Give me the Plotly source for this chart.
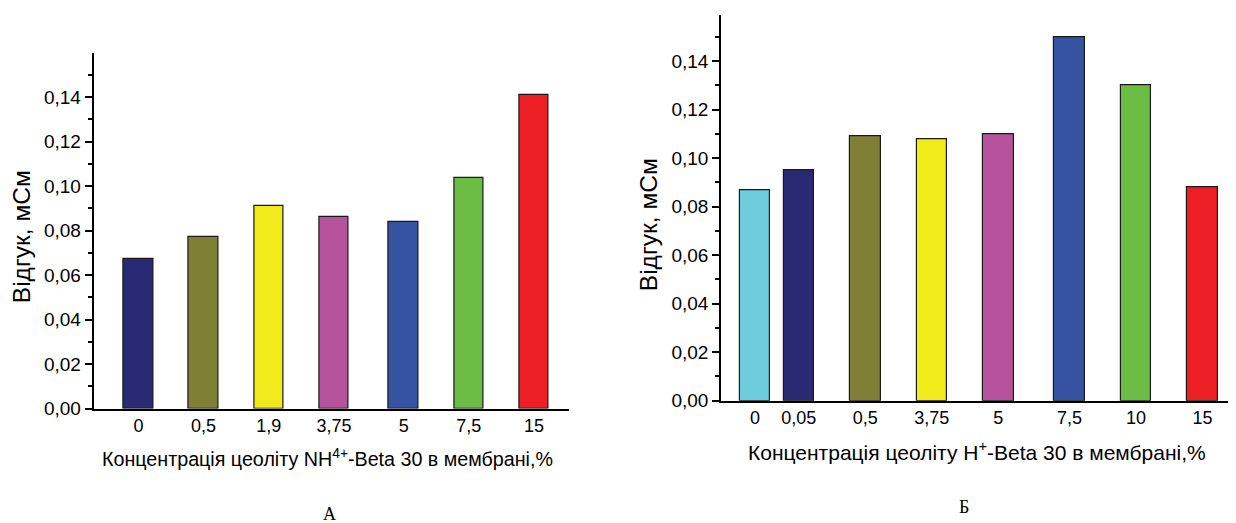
import plotly.graph_objects as go

# ---- data ----
nh4_conc = ["0", "0,5", "1,9", "3,75", "5", "7,5", "15"]
nh4_resp = [0.067, 0.077, 0.091, 0.086, 0.084, 0.1035, 0.141]
nh4_colors = ["#292a73", "#7f7f35", "#f2eb1c", "#b6529e", "#3653a3", "#6bbd45", "#ed1f24"]

h_conc = ["0", "0,05", "0,5", "3,75", "5", "7,5", "10", "15"]
h_resp = [0.087, 0.095, 0.109, 0.108, 0.110, 0.150, 0.130, 0.088]
h_colors = ["#6dcddd", "#292a73", "#7f7f35", "#f2eb1c", "#b6529e", "#3653a3", "#6bbd45", "#ed1f24"]

# slot positions of the bars along each categorical axis (layout)
nh4_pos = [0, 1, 2, 3, 4.07, 5.07, 6.07]
h_pos = [0.34, 1, 2, 3, 4, 5.07, 6.07, 7.07]

W, H = 1236, 523
FONT = "Liberation Sans, Arial, sans-serif"
SERIF = "Liberation Serif, Times New Roman, serif"

# compensation for page offset seen in the capture
def fx(p):
    return (p - 7.5) / W

def fy(p):
    return 1 - (p / 0.981 - 8) / H

fig = go.Figure()
fig.add_trace(go.Bar(x=nh4_pos, y=nh4_resp, width=0.452,
                     marker=dict(color=nh4_colors, line=dict(color="#1a1a1a", width=1.2)),
                     xaxis="x", yaxis="y", showlegend=False))
fig.add_trace(go.Bar(x=h_pos, y=h_resp, width=0.46,
                     marker=dict(color=h_colors, line=dict(color="#1a1a1a", width=1.2)),
                     xaxis="x2", yaxis="y2", showlegend=False))

yax_common = dict(showline=True, linecolor="black", linewidth=1.6, ticks="outside",
                  ticklen=7, tickwidth=1.5, tickcolor="black", dtick=0.02, tick0=0,
                  tickformat=".2f", showgrid=False, zeroline=False,
                  minor=dict(ticks="outside", ticklen=4, tickwidth=1.5, dtick=0.01,
                             tickcolor="black", showgrid=False),
                  tickfont=dict(family=FONT, size=19, color="black"))
xax_common = dict(showline=True, linecolor="black", linewidth=1.6, ticks="",
                  showgrid=False, zeroline=False,
                  tickfont=dict(family=FONT, size=18, color="black"))

fig.update_layout(
    width=W, height=H, margin=dict(l=0, r=0, t=0, b=0),
    paper_bgcolor="white", plot_bgcolor="white", separators=", ",
    bargap=0,
    xaxis=dict(domain=[fx(93), fx(568)], range=[-0.69, 6.6], anchor="y",
               tickvals=nh4_pos, ticktext=nh4_conc, **xax_common),
    yaxis=dict(domain=[fy(409.3), fy(53)], range=[0, 0.1598], anchor="x", **yax_common),
    xaxis2=dict(domain=[fx(720.5), fx(1228)], range=[-0.17, 7.46], anchor="y2",
                tickvals=h_pos, ticktext=h_conc, **xax_common),
    yaxis2=dict(domain=[fy(401.3), fy(15)], range=[0, 0.159], anchor="x2", **yax_common),
)

annots = [
    dict(text="Відгук, мСм", x=fx(21), y=fy(237), textangle=-90, size=24.5, fam=FONT),
    dict(text="Відгук, мСм", x=fx(648), y=fy(225), textangle=-90, size=24.5, fam=FONT),
    dict(text="Концентрація цеоліту NH<sup>4+</sup>-Beta 30 в мембрані,%",
         x=fx(326.5), y=fy(459), textangle=0, size=19.7, fam=FONT),
    dict(text="Концентрація цеоліту H<sup>+</sup>-Beta 30 в мембрані,%",
         x=fx(976), y=fy(452), textangle=0, size=21, fam=FONT),
    dict(text="А", x=fx(329), y=fy(515), textangle=0, size=18, fam=SERIF),
    dict(text="Б", x=fx(963), y=fy(508), textangle=0, size=18, fam=SERIF),
]
for a in annots:
    fig.add_annotation(text=a["text"], x=a["x"], y=a["y"], xref="paper", yref="paper",
                       xanchor="center", yanchor="middle", showarrow=False,
                       textangle=a["textangle"],
                       font=dict(family=a["fam"], size=a["size"], color="black"))

fig.write_html("out.html")
